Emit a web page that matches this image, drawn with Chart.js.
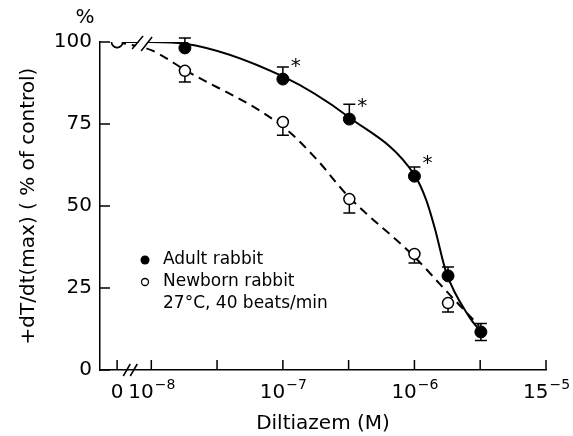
<!DOCTYPE html>
<html>
<head>
<meta charset="utf-8">
<script src="https://cdn.jsdelivr.net/npm/chart.js@4/dist/chart.umd.min.js"></script>
<style>
  html, body { margin: 0; padding: 0; background: #fff; }
  #chart { display: block; }
</style>
</head>
<body>
<canvas id="chart" width="573" height="436"></canvas>
<script>
// ==========================================================================
// Data
// ==========================================================================
// Diltiazem doses (M); 0 = control, drawn left of the axis break
const doseAdult = [0, 1.8e-8, 1e-7, 3.2e-7, 1e-6, 1.8e-6, 3.2e-6];
const adultPct = [100, 98.2, 88.7, 76.5, 59.1, 28.7, 11.6];
const adultErrUp = [0, 3, 3.7, 4.5, 2.8, 2.7, 2.6];
const adultErrDown = [0, 0, 0, 0, 0, 0, 2.6];
const adultStar = [false, false, true, true, true, false, false];

const doseNewborn = [0, 1.8e-8, 1e-7, 3.2e-7, 1e-6, 1.8e-6];
const newbornPct = [100, 91.2, 75.6, 52.1, 35.4, 20.4];
const newbornErrDown = [0, 3.4, 4, 4.2, 2.8, 2.7];

// fitted curves as drawn in the figure
const adultFitDose = [0, 1e-8, 1.8e-8, 1e-7, 3.2e-7, 1e-6, 1.23e-6, 1.42e-6, 1.75e-6, 2.61e-6, 3.2e-6];
const adultFitPct = [100, 100, 99.5, 89.5, 77, 59.5, 51.8, 43.6, 29.6, 16.2, 11.6];
const newbornFitDose = [0, 1e-8, 1.8e-8, 1e-7, 1.8e-7, 3.05e-7, 1e-6, 1.8e-6, 3.1e-6];
const newbornFitPct = [100, 97.5, 91.5, 74.2, 64.3, 53.5, 34.5, 23.5, 13.5];

// x ticks (dose, label base, superscript)
const xTickDose = [0, 1e-8, 3.16e-8, 1e-7, 3.16e-7, 1e-6, 3.16e-6, 1e-5];
const xTickBase = ['0', '10', '', '10', '', '10', '', '15'];
const xTickExp = ['', '\u22128', '', '\u22127', '', '\u22126', '', '\u22125'];
const yTicks = [0, 25, 50, 75, 100];

const legendItems = ['Adult rabbit', 'Newborn rabbit', '27\u00b0C, 40 beats/min'];

// ==========================================================================
// Helpers
// ==========================================================================
const ZERO_POS = -8.26;   // where "0" sits on the log axis
const toX = d => (d === 0 ? ZERO_POS : Math.log10(d));
const pts = (doses, vals) => doses.map((d, i) => ({ x: toX(d), y: vals[i] }));
const FONT = "'DejaVu Sans', sans-serif";

// ==========================================================================
// Custom drawing: inward ticks, error bars, breaks, labels, legend
// ==========================================================================
const decorations = {
  id: 'decorations',
  beforeDatasetsDraw(chart) {
    const { ctx, scales: { x, y } } = chart;
    ctx.save();
    ctx.strokeStyle = '#000';
    ctx.lineWidth = 1.5;
    const bar = (d, v, lo, hi) => {
      const px = x.getPixelForValue(toX(d));
      ctx.beginPath();
      ctx.moveTo(px, y.getPixelForValue(lo));
      ctx.lineTo(px, y.getPixelForValue(hi));
      [lo, hi].forEach(e => {
        if (e === v) return;
        const py = y.getPixelForValue(e);
        ctx.moveTo(px - 6, py);
        ctx.lineTo(px + 6, py);
      });
      ctx.stroke();
    };
    doseAdult.forEach((d, i) => {
      if (adultErrUp[i] || adultErrDown[i]) {
        bar(d, adultPct[i], adultPct[i] - adultErrDown[i], adultPct[i] + adultErrUp[i]);
      }
    });
    doseNewborn.forEach((d, i) => {
      if (newbornErrDown[i]) bar(d, newbornPct[i], newbornPct[i] - newbornErrDown[i], newbornPct[i]);
    });
    ctx.restore();
  },
  afterDraw(chart) {
    const { ctx, chartArea: a, scales: { x, y } } = chart;
    ctx.save();
    ctx.strokeStyle = '#000';
    ctx.fillStyle = '#000';
    ctx.lineWidth = 1.5;

    // inward tick marks
    ctx.beginPath();
    yTicks.forEach(v => {
      const py = y.getPixelForValue(v);
      ctx.moveTo(a.left, py);
      ctx.lineTo(a.left + 10, py);
    });
    xTickDose.forEach(d => {
      const px = x.getPixelForValue(toX(d));
      ctx.moveTo(px, a.bottom);
      ctx.lineTo(px, a.bottom - 10);
    });
    ctx.stroke();

    // x tick labels with superscripts
    ctx.textBaseline = 'middle';
    xTickDose.forEach((d, i) => {
      if (!xTickBase[i]) return;
      const px = x.getPixelForValue(toX(d));
      ctx.font = '20px ' + FONT;
      const wb = ctx.measureText(xTickBase[i]).width;
      ctx.font = '14px ' + FONT;
      const we = ctx.measureText(xTickExp[i]).width;
      let left = px - (wb + we) / 2;
      ctx.textAlign = 'left';
      ctx.font = '20px ' + FONT;
      ctx.fillText(xTickBase[i], left, a.bottom + 23);
      if (xTickExp[i]) {
        ctx.font = '14px ' + FONT;
        ctx.fillText(xTickExp[i], left + wb + 1, a.bottom + 15);
      }
    });

    // "%" unit over the y axis
    ctx.font = '20px ' + FONT;
    ctx.textAlign = 'center';
    ctx.fillText('%', a.left - 15, a.top - 24);

    // break on the curves
    const cx = x.getPixelForValue(-8.07);
    const cy = y.getPixelForValue(100) + 1;
    ctx.fillStyle = '#fff';
    ctx.beginPath();
    ctx.moveTo(cx - 9, cy + 6);
    ctx.lineTo(cx + 2, cy - 7);
    ctx.lineTo(cx + 9, cy - 6);
    ctx.lineTo(cx - 1, cy + 8);
    ctx.closePath();
    ctx.fill();
    ctx.beginPath();
    ctx.moveTo(cx - 10, cy + 6);
    ctx.lineTo(cx + 1, cy - 7);
    ctx.moveTo(cx - 1, cy + 8);
    ctx.lineTo(cx + 10, cy - 6);
    ctx.stroke();

    // break on the x axis
    const bx = x.getPixelForValue(-8.16);
    ctx.beginPath();
    ctx.moveTo(bx - 7, a.bottom + 6);
    ctx.lineTo(bx, a.bottom - 6);
    ctx.moveTo(bx, a.bottom + 6);
    ctx.lineTo(bx + 7, a.bottom - 6);
    ctx.stroke();

    // significance asterisks
    ctx.fillStyle = '#000';
    ctx.font = '20px ' + FONT;
    ctx.textAlign = 'left';
    doseAdult.forEach((d, i) => {
      if (!adultStar[i]) return;
      ctx.fillText('*', x.getPixelForValue(toX(d)) + 8, y.getPixelForValue(adultPct[i]) - 12);
    });

    // legend
    ctx.font = '17px ' + FONT;
    ctx.textBaseline = 'middle';
    const lx = 145, ly = 260, step = 22;
    ctx.beginPath();
    ctx.arc(lx, ly, 4.5, 0, Math.PI * 2);
    ctx.fill();
    ctx.beginPath();
    ctx.arc(lx, ly + step, 3.5, 0, Math.PI * 2);
    ctx.lineWidth = 1.3;
    ctx.stroke();
    legendItems.forEach((t, i) => ctx.fillText(t, lx + 18, ly + step * i));
    ctx.restore();
  }
};

// ==========================================================================
// Chart
// ==========================================================================
new Chart(document.getElementById('chart'), {
  type: 'line',
  data: {
    datasets: [
      {
        data: pts(adultFitDose, adultFitPct),
        borderColor: '#000',
        borderWidth: 2,
        pointRadius: 0,
        cubicInterpolationMode: 'monotone',
        order: 5
      },
      {
        data: pts(newbornFitDose, newbornFitPct),
        borderColor: '#000',
        borderWidth: 2,
        borderDash: [9, 6],
        pointRadius: 0,
        cubicInterpolationMode: 'monotone',
        order: 4
      },
      {
        data: pts(doseAdult, adultPct),
        showLine: false,
        pointRadius: 6,
        pointBackgroundColor: '#000',
        pointBorderColor: '#000',
        pointBorderWidth: 1,
        order: 2
      },
      {
        data: pts(doseNewborn, newbornPct),
        showLine: false,
        pointRadius: 5.5,
        pointBackgroundColor: '#fff',
        pointBorderColor: '#000',
        pointBorderWidth: 1.5,
        order: 1
      }
    ]
  },
  options: {
    responsive: false,
    animation: false,
    devicePixelRatio: 1,
    layout: { padding: { top: 42, right: 27, left: 0, bottom: 0 } },
    plugins: { legend: { display: false }, tooltip: { enabled: false } },
    scales: {
      x: {
        type: 'linear',
        min: -8.39,
        max: -5,
        grid: { display: false, drawTicks: false },
        border: { display: true, color: '#000', width: 1.5 },
        ticks: { display: false },
        title: {
          display: true,
          text: 'Diltiazem (M)',
          color: '#000',
          font: { family: FONT, size: 20 },
          padding: { top: 0, bottom: 0 }
        },
        afterFit: s => { s.height = 66; }
      },
      y: {
        min: 0,
        max: 100,
        grid: { display: false, drawTicks: false },
        border: { display: true, color: '#000', width: 1.5 },
        ticks: {
          stepSize: 25,
          padding: 8,
          color: '#000',
          font: { family: FONT, size: 20 }
        },
        title: {
          display: true,
          text: '+dT/dt(max) ( % of control)',
          color: '#000',
          font: { family: FONT, size: 20 },
          padding: { top: 17, bottom: 0 }
        },
        afterFit: s => { s.width = 100; }
      }
    }
  },
  plugins: [decorations]
});
</script>
</body>
</html>
